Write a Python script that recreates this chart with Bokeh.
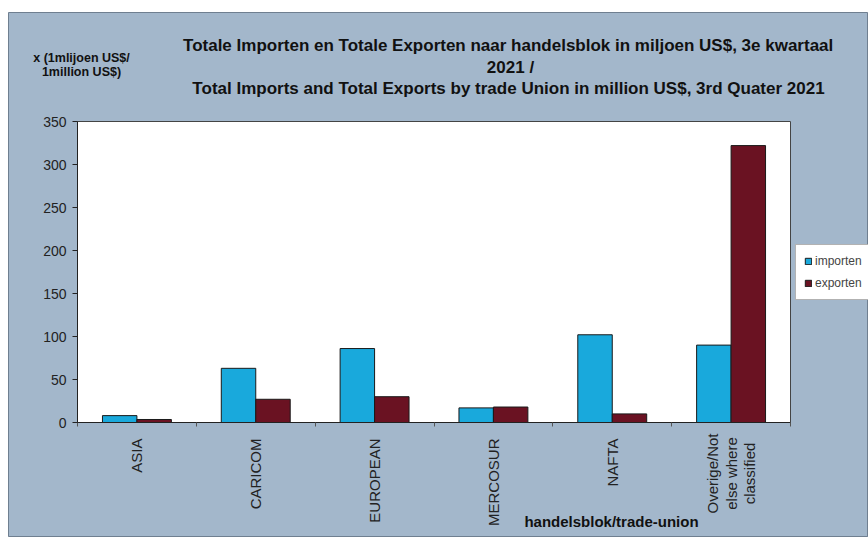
from math import pi
from bokeh.plotting import figure
from bokeh.models import (Label, Legend, LegendItem, FixedTicker, ColumnDataSource,
                          Range1d, LinearAxis)
from bokeh.transform import dodge
from bokeh.embed import file_html
from bokeh.resources import INLINE

categories = ["ASIA", "CARICOM", "EUROPEAN", "MERCOSUR", "NAFTA", "Overige/Not else where classified"]
last_label_lines = ["Overige/Not", "else where", "classified"]
importen = [8, 63, 86, 17, 102, 90]
exporten = [3.5, 27, 30, 18, 10, 322]
y_ticks = [0, 50, 100, 150, 200, 250, 300, 350]
y_max = 350

BG = "#a3b7cb"
FONT = "Liberation Sans"

n = len(categories)
pos = [i + 0.5 for i in range(n)]          # category centres on the axis
bounds = [float(i) for i in range(n + 1)]  # category boundaries (tick marks)
src = ColumnDataSource(dict(pos=pos, imp=importen, exp=exporten))

# layout in pixels (canvas = frame); white plot area placed inside it
W, H = 860, 525
AREA_L, AREA_R = 69, 782      # px from canvas left
AREA_B, AREA_T = 115, 416     # px from canvas bottom
px_x = (AREA_R - AREA_L) / n
px_y = (AREA_T - AREA_B) / y_max
x_range = Range1d(-AREA_L / px_x, (W - AREA_L) / px_x)
y_range = Range1d(-AREA_B / px_y, (H - AREA_B) / px_y)

p = figure(x_range=x_range, y_range=y_range, width=W, height=H,
           output_backend="svg", toolbar_location=None, x_axis_type=None, y_axis_type=None,
           min_border_left=0, min_border_right=0, min_border_top=0, min_border_bottom=0)
p.margin = (12, 0, 0, 8)
p.border_fill_color = BG
p.background_fill_color = BG
p.outline_line_color = "#6f7f90"
p.xgrid.visible = False
p.ygrid.visible = False

p.quad(left=0, right=n, bottom=0, top=y_max, fill_color="white", line_color="#444444", line_width=1)

r1 = p.vbar(x=dodge("pos", -0.145), top="imp", width=0.29, source=src,
            fill_color="#19a9dc", line_color="#1a1a1a", line_width=1)
r2 = p.vbar(x=dodge("pos", 0.145), top="exp", width=0.29, source=src,
            fill_color="#6a1222", line_color="#1a1a1a", line_width=1)

yaxis = LinearAxis(fixed_location=0, bounds=(0, y_max), ticker=FixedTicker(ticks=y_ticks),
                   major_label_text_font=FONT, major_label_text_font_size="14px",
                   major_label_text_color="#222222", axis_line_color="#222222",
                   major_tick_line_color="#222222", major_tick_out=5, major_tick_in=0,
                   minor_tick_line_color=None, major_label_standoff=6)
p.add_layout(yaxis, "left")

overrides = {c: (t if i < n - 1 else "") for i, (c, t) in enumerate(zip(pos, categories))}
xaxis = LinearAxis(fixed_location=0, ticker=FixedTicker(ticks=pos, minor_ticks=bounds), bounds=(0, n),
                   major_label_overrides=overrides, major_label_orientation=pi / 2,
                   major_label_text_font=FONT, major_label_text_font_size="15px",
                   major_label_text_color="#222222", major_label_standoff=10,
                   axis_line_color="#222222", major_tick_line_color=None,
                   minor_tick_line_color="#555555", minor_tick_out=4, minor_tick_in=0)
p.add_layout(xaxis, "below")

# three-line label of the last category
for k, line in enumerate(last_label_lines):
    p.add_layout(Label(x=pos[-1] + (k - 1) * 0.155, y=0, y_offset=-51, angle=pi / 2, text=line,
                       text_align="center", text_baseline="middle", x_units="data", y_units="data",
                       text_font=FONT, text_font_size="15px", text_color="#222222"))

def lab(text, x, y, size, bold=True, align="center"):
    p.add_layout(Label(x=x, y=y, x_units="screen", y_units="screen", text=text,
                       text_font=FONT, text_font_size=size,
                       text_font_style="bold" if bold else "normal",
                       text_align=align, text_baseline="middle", text_color="#111111"))

lab("Totale Importen en Totale Exporten naar handelsblok in miljoen US$,  3e kwartaal", 502, 492, "17px")
lab("2021 /", 502, 470, "17px")
lab("Total Imports and Total Exports by trade Union in million US$, 3rd Quater 2021", 500, 449, "17px")
lab("x (1mlijoen US$/", 73, 480, "12.5px")
lab("1million US$)", 73, 466, "12.5px")
lab("handelsblok/trade-union", 603, 16, "15px")

legend = Legend(items=[LegendItem(label="importen", renderers=[r1]),
                       LegendItem(label="exporten", renderers=[r2])],
                location=(787, 237), orientation="vertical")
legend.label_text_font = FONT
legend.label_text_font_size = "12px"
legend.glyph_width = 8
legend.glyph_height = 8
legend.label_height = 16
legend.label_standoff = 3
legend.spacing = 6
legend.padding = 8
legend.margin = 0
legend.border_line_color = "#666666"
legend.background_fill_color = "white"
legend.background_fill_alpha = 1
p.add_layout(legend)

open("out.html", "w").write(file_html(p, INLINE))
